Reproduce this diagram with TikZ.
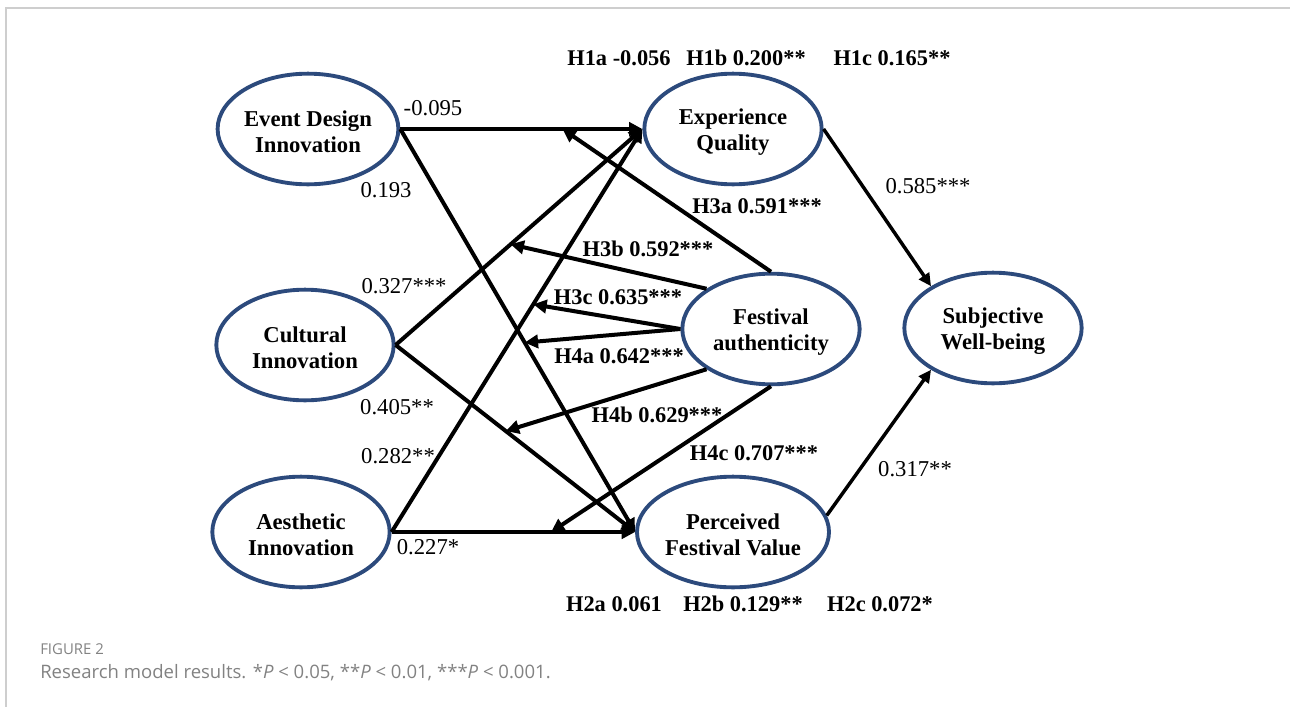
\documentclass[tikz,border=0pt]{standalone}
\usepackage{fontspec}
\setmainfont{Liberation Serif}
\newfontfamily\capfont{Open Sans}
\usetikzlibrary{arrows.meta,shapes.geometric}
\definecolor{ellblue}{RGB}{44,74,124}
\definecolor{framegray}{RGB}{206,206,206}
\definecolor{capgray}{RGB}{130,130,130}
\newcommand{\toppad}{\rule{0pt}{16.5pt}}
\begin{document}
\begin{tikzpicture}[x=0.75pt,y=-0.75pt,
  lat/.style={ellipse,draw=ellblue,line width=2.9pt,inner sep=0pt,align=center,
    minimum width=133pt,minimum height=83pt,
    font=\fontsize{17}{19.5}\selectfont\bfseries},
  arr/.style={line width=3pt,-{Triangle[length=10pt,width=10pt]}},
  arrthin/.style={line width=2.6pt,-{Triangle[length=9.5pt,width=9pt]}},
  lbl/.style={inner sep=0pt,font=\fontsize{17}{19}\selectfont},
  hl/.style={inner sep=0pt,font=\fontsize{16.8}{19}\selectfont\bfseries},
  capsty/.style={inner sep=0pt,anchor=west,text=capgray}]
\useasboundingbox (0,0) rectangle (1290,707);
\draw[framegray,line width=1.1pt] (6,707) -- (6,8) -- (1290,8);

% latent variables
\node[lat] (edi) at (308,129) {\toppad Event Design\\Innovation};
\node[lat] (ci)  at (305,345) {\toppad Cultural\\Innovation};
\node[lat] (ai)  at (301,532) {\toppad Aesthetic\\Innovation};
\node[lat] (eq)  at (733,129) {\toppad Experience\\Quality};
\node[lat] (fa)  at (771,329) {\toppad Festival\\authenticity};
\node[lat] (swb) at (993,328) {\toppad Subjective\\Well-being};
\node[lat] (pfv) at (733,532) {\toppad Perceived\\Festival Value};

% target points on the paths for moderation arrows
\path (edi.east) -- (eq.west)  coordinate[pos=0.67] (t3a);
\path (ci.east)  -- (eq.west)  coordinate[pos=0.466] (t3b);
\path (ai.east)  -- (eq.west)  coordinate[pos=0.565] (t3c);
\path (edi.east) -- (pfv.west) coordinate[pos=0.53] (t4a);
\path (ci.east)  -- (pfv.west) coordinate[pos=0.46] (t4b);
\path (ai.east)  -- (pfv.west) coordinate[pos=0.655] (t4c);

% main paths
\draw[arr] (edi.east) -- (eq.west);
\draw[arr] (edi.east) -- (pfv.west);
\draw[arr] (ci.east) -- (eq.west);
\draw[arr] (ci.east) -- (pfv.west);
\draw[arr] (ai.east) -- (eq.west);
\draw[arr] (ai.east) -- (pfv.west);
\draw[arrthin] (eq.east) -- (swb.146);
\draw[arrthin] (pfv.10) -- (swb.214);

% moderation paths
\draw[arr] (fa.north) -- (t3a);
\draw[arr] (fa.148) -- (t3b);
\draw[arr] (fa.west) -- (t3c);
\draw[arr] (fa.west) -- (t4a);
\draw[arr] (fa.212) -- (t4b);
\draw[arr] (fa.south) -- (t4c);

% coefficient labels
\node[lbl] (l1) at (433,108) {-0.095};
\node[lbl] (l2) at (386,190) {0.193};
\node[lbl] (l3) at (404,286) {0.327***};
\node[lbl] (l4) at (397,407) {0.405**};
\node[lbl] (l5) at (398,456) {0.282**};
\node[lbl] (l6) at (428,547) {0.227*};
\node[lbl] (l7) at (928,186) {0.585***};
\node[lbl] (l8) at (915,469) {0.317**};

% hypothesis labels
\node[hl] (h1a) at (619,58) {H1a -0.056};
\node[hl] (h1b) at (746,58) {H1b 0.200**};
\node[hl] (h1c) at (892,58) {H1c 0.165**};
\node[hl] (h3a) at (757,206) {H3a 0.591***};
\node[hl] (h3b) at (648,249) {H3b 0.592***};
\node[hl] (h3c) at (618,297) {H3c 0.635***};
\node[hl] (h4a) at (619,356) {H4a 0.642***};
\node[hl] (h4b) at (657,415) {H4b 0.629***};
\node[hl] (h4c) at (754,453) {H4c 0.707***};
\node[hl] (h2a) at (614,604) {H2a 0.061};
\node[hl] (h2b) at (743,604) {H2b 0.129**};
\node[hl] (h2c) at (880,604) {H2c 0.072*};

% caption
\node[capsty,font=\capfont\fontsize{11.2}{13}\selectfont] (fig) at (40,649) {FIGURE 2};
\node[capsty,font=\capfont\fontsize{13.9}{16}\selectfont] (captext) at (40,673)
  {Research model results. *{\itshape P} < 0.05, **{\itshape P} < 0.01, ***{\itshape P} < 0.001.};
\end{tikzpicture}
\end{document}
